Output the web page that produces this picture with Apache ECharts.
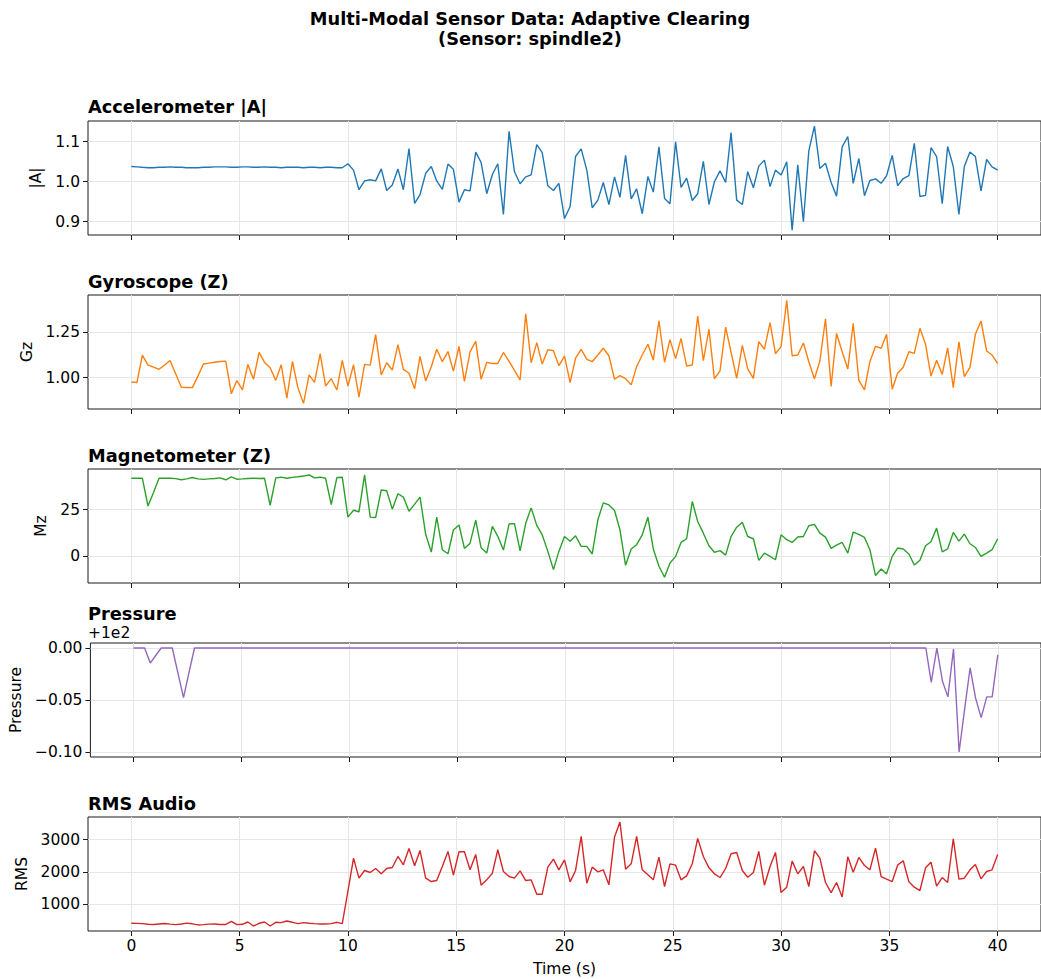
<!DOCTYPE html>
<html>
<head>
<meta charset="utf-8">
<script src="https://cdn.jsdelivr.net/npm/echarts@6/dist/echarts.min.js"></script>
<style>
html,body{margin:0;padding:0;background:#fff;}
#chart{width:1041px;height:979px;}
</style>
</head>
<body>
<div id="chart"></div>
<script>
// ---------------- DATA ----------------
const time = [
0,0.26,0.51,0.77,1.03,1.28,1.54,1.79,2.05,2.31,2.56,2.82,3.08,3.33,3.59,3.85,4.10,4.36,4.62,4.87,5.13,5.38,5.64,5.90,6.15,6.41,6.67,6.92,7.18,7.44,7.69,7.95,8.21,8.46,8.72,8.97,9.23,9.49,9.74,
10,10.26,10.51,10.77,11.03,11.28,11.54,11.79,12.05,12.31,12.56,12.82,13.08,13.33,13.59,13.85,14.10,14.36,14.62,14.87,15.13,15.38,15.64,15.90,16.15,16.41,16.67,16.92,17.18,17.44,17.69,17.95,18.21,18.46,18.72,18.97,19.23,19.49,19.74,
20,20.26,20.51,20.77,21.03,21.28,21.54,21.79,22.05,22.31,22.56,22.82,23.08,23.33,23.59,23.85,24.10,24.36,24.62,24.87,25.13,25.38,25.64,25.90,26.15,26.41,26.67,26.92,27.18,27.44,27.69,27.95,28.21,28.46,28.72,28.97,29.23,29.49,29.74,
30,30.26,30.51,30.77,31.03,31.28,31.54,31.79,32.05,32.31,32.56,32.82,33.08,33.33,33.59,33.85,34.10,34.36,34.62,34.87,35.13,35.38,35.64,35.90,36.15,36.41,36.67,36.92,37.18,37.44,37.69,37.95,38.21,38.46,38.72,38.97,39.23,39.49,39.74,
40];

const accel = [
1.038,1.037,1.036,1.035,1.035,1.036,1.036,1.037,1.036,1.036,
1.035,1.035,1.035,1.036,1.036,1.037,1.037,1.037,1.036,1.036,
1.037,1.037,1.036,1.036,1.037,1.036,1.036,1.035,1.036,1.036,
1.036,1.035,1.036,1.036,1.035,1.036,1.036,1.035,1.035,
1.045,1.029,0.980,1.002,1.005,1.002,1.032,0.978,0.992,1.032,
0.980,1.083,0.946,0.968,1.021,1.038,1.002,0.981,1.044,1.031,
0.949,0.980,0.977,1.074,1.048,0.970,1.018,1.045,0.918,1.126,
1.025,0.995,1.012,1.017,
1.093,1.073,0.990,0.978,0.996,0.908,0.938,1.063,1.082,1.029,
0.935,0.954,0.998,0.943,1.012,0.961,1.066,0.957,0.982,0.920,
1.013,0.974,1.087,0.958,0.945,1.100,0.986,1.009,0.953,0.970,
1.051,0.943,1.000,1.027,0.998,1.123,0.954,0.943,1.025,0.985,
1.039,1.054,0.988,1.029,1.017,1.050,0.879,1.042,0.900,1.077,
1.139,1.033,1.046,0.998,0.964,1.087,1.113,0.996,1.058,0.965,
1.003,1.007,0.996,1.015,1.066,0.990,1.008,1.015,1.096,0.963,
0.966,1.085,1.063,0.945,1.088,1.038,0.918,1.038,1.074,1.063,
0.977,1.056,1.037,1.029];

const gyroZ = [
0.976,0.973,1.124,1.069,1.058,1.046,1.070,1.095,1.020,0.947,
0.946,0.945,1.010,1.075,1.080,1.085,1.089,1.091,0.911,0.984,
0.932,1.073,0.991,1.139,1.084,1.055,0.985,1.071,0.887,1.089,
0.945,0.858,1.015,0.974,1.133,0.954,0.995,0.932,1.095,0.954,
1.071,0.892,1.073,1.069,1.237,1.015,1.082,1.042,1.182,1.046,
1.024,0.938,1.117,0.982,1.060,1.157,1.088,1.144,1.036,1.172,
0.980,1.142,1.201,0.991,1.084,1.078,1.078,1.139,1.090,1.040,
0.987,1.352,1.082,1.193,1.075,1.154,1.149,1.066,1.119,0.972,
1.108,1.156,1.101,1.088,1.125,1.162,1.121,0.991,1.011,0.994,
0.960,1.061,1.125,1.184,1.097,1.314,1.085,1.210,1.105,1.217,
1.064,1.070,1.340,1.094,1.268,0.994,1.037,1.279,1.140,0.996,
1.178,1.048,0.996,1.199,1.156,1.303,1.132,1.171,1.426,1.121,
1.125,1.191,1.088,0.993,1.092,1.324,0.952,1.244,1.143,1.048,
1.300,0.985,0.932,1.088,1.173,1.162,1.239,0.936,1.024,1.057,
1.143,1.134,1.272,1.184,1.009,1.096,1.018,1.164,0.945,1.197,
1.006,1.057,1.239,1.313,1.147,1.125,1.077];

const magZ = [
41.8,41.8,41.8,26.9,34.3,41.8,41.8,41.8,41.6,41.0,
41.5,42.2,41.5,41.2,41.5,41.7,42.0,41.0,42.6,41.3,
41.5,41.7,41.8,41.7,41.8,27.3,42.0,42.4,41.8,42.3,
42.6,43.0,43.6,42.0,42.4,41.8,27.7,42.2,42.4,20.9,
24.6,23.8,43.6,20.9,20.7,35.5,35.1,25.2,33.5,31.7,
24.1,27.9,31.7,11.7,2.1,20.9,3.4,1.2,14.0,16.7,
4.1,6.9,19.3,4.4,1.6,16.0,10.6,3.2,17.2,17.4,
2.8,17.6,25.9,16.5,11.4,2.5,-7.3,2.5,10.5,7.9,
10.9,5.2,5.2,1.1,19.5,28.6,27.5,24.5,14.1,-5.0,
3.8,6.1,11.4,20.9,3.8,-5.5,-11.4,-3.8,-0.2,7.3,
9.3,29.3,18.6,12.3,5.5,2.0,2.9,0.5,10.5,15.5,
18.2,10.5,9.3,-2.3,1.6,-0.2,-2.0,11.4,8.8,7.3,
10.2,10.5,16.3,17.0,12.3,10.2,4.1,5.9,7.3,1.6,
12.9,11.6,10.0,3.4,-10.5,-7.0,-9.6,-0.2,4.3,3.8,
1.1,-4.8,-2.3,5.5,7.7,15.0,2.3,3.8,12.7,8.0,
11.8,6.6,4.6,-0.2,1.6,3.4,9.3];

const pressure = [
100,100,100,99.9855,99.993,100,100,100,99.976,99.9523,
99.976,100,100,100,100,100,100,100,100,100,
100,100,100,100,100,100,100,100,100,100,
100,100,100,100,100,100,100,100,100,100,
100,100,100,100,100,100,100,100,100,100,
100,100,100,100,100,100,100,100,100,100,
100,100,100,100,100,100,100,100,100,100,
100,100,100,100,100,100,100,100,100,100,
100,100,100,100,100,100,100,100,100,100,
100,100,100,100,100,100,100,100,100,100,
100,100,100,100,100,100,100,100,100,100,
100,100,100,100,100,100,100,100,100,100,
100,100,100,100,100,100,100,100,100,100,
100,100,100,100,100,100,100,100,100,100,
100,100,100,100,99.967,100,99.968,99.953,99.999,99.900,
99.9405,99.981,99.952,99.933,99.953,99.953,99.9935];

const rmsAudio = [
396,394,385,365,360,375,390,370,354,375,
400,380,345,355,370,375,360,360,458,354,
365,437,312,396,437,312,427,417,469,427,
385,417,396,385,375,375,385,427,385,1395,
2427,1802,2042,1979,2104,1938,2104,2135,2479,2219,
2729,2188,2667,1802,1698,1729,2167,2635,1896,2625,
2625,2063,2542,1583,1750,1958,2688,2010,1854,1802,
2031,1729,1750,1302,1302,2146,2396,2063,2375,1688,
2042,3104,1646,2146,2000,2063,1594,3083,3552,2083,
2250,3104,2063,1906,1750,2458,1542,2250,2208,1750,
1875,2250,3042,2479,2125,1938,1823,2104,2563,2604,
2042,1833,1979,2635,1583,2167,2604,1354,1521,2333,
1938,2167,1542,2656,2427,1667,1354,1667,1219,2469,
1990,2448,2198,2063,2740,1854,1771,1698,2208,2344,
1688,1521,1417,2125,2302,1552,1823,1667,3031,1771,
1802,2063,2229,1781,2010,2063,2542];

const pressureOffset = 100; // shown as "+1e2"

const xTicks = [0,5,10,15,20,25,30,35,40];
const accelTicks = [0.9,1.0,1.1];
const gyroTicks = [1.0,1.25];
const magTicks = [0,25];
const pressureTicks = [-0.10,-0.05,0.00];
const rmsTicks = [1000,2000,3000];

const titles = ['Accelerometer |A|','Gyroscope (Z)','Magnetometer (Z)','Pressure','RMS Audio'];
const yNames = ['|A|','Gz','Mz','Pressure','RMS'];
const mainTitle = ['Multi-Modal Sensor Data: Adaptive Clearing','(Sensor: spindle2)'];

// ---------------- CHART ----------------
const FONT = '"DejaVu Sans", sans-serif';
const colors = ['#1f77b4','#ff7f0e','#2ca02c','#9467bd','#d62728'];
const seriesValues = [accel, gyroZ, magZ, pressure.map(v => +(v - pressureOffset).toFixed(5)), rmsAudio];
const tops = [121,295,469,643,817];
const yRanges = [[0.8668,1.1518],[0.827,1.456],[-14.5,46.8],[-0.1048,0.0048],[156,3709]];
const yTicks = [accelTicks,gyroTicks,magTicks,pressureTicks,rmsTicks];
const yFmt = [
  v => v.toFixed(1),
  v => v.toFixed(2),
  v => String(Math.round(v)),
  v => v.toFixed(2).replace('-', '\u2212'),
  v => String(Math.round(v))
];
const nameGaps = [39, 47, 34, 60, 53];
const titleCenters = [106, 281, 455, 613, 803];

const spine = '#1a1a1a';
const gridColor = '#e6e6e6';
const TICK_FS = 15.5;
const TITLE_FS = 17.8;

const grid = tops.map(t => ({left:88, top:t, width:962, height:114, show:true,
  borderColor:spine, borderWidth:1, backgroundColor:'rgba(0,0,0,0)', containLabel:false}));

const xAxis = tops.map((t,i) => ({
  type:'value', gridIndex:i, min:-2, max:42,
  axisLine:{show:false, onZero:false},
  axisTick:{show:true, length:5, customValues:xTicks, lineStyle:{color:spine, width:1}},
  axisLabel:{show:i===4, customValues:xTicks, margin:7, fontSize:TICK_FS, color:'#000', fontFamily:FONT},
  splitLine:{show:true, lineStyle:{color:gridColor, width:1}},
  name: i===4 ? 'Time (s)' : '', nameLocation:'middle', nameGap:30,
  nameTextStyle:{fontSize:TICK_FS, color:'#000', fontFamily:FONT}
}));

const yAxis = tops.map((t,i) => ({
  type:'value', gridIndex:i, min:yRanges[i][0], max:yRanges[i][1],
  axisLine:{show:false, onZero:false},
  axisTick:{show:true, length:5, customValues:yTicks[i], lineStyle:{color:spine, width:1}},
  axisLabel:{customValues:yTicks[i], formatter:yFmt[i], margin:8, fontSize:TICK_FS, color:'#000', fontFamily:FONT},
  splitLine:{show:true, lineStyle:{color:gridColor, width:1}},
  name:yNames[i], nameLocation:'middle', nameGap:nameGaps[i], nameRotate:90,
  nameTextStyle:{fontSize:TICK_FS, color:'#000', fontFamily:FONT}
}));

const series = seriesValues.map((vals,i) => ({
  type:'line', xAxisIndex:i, yAxisIndex:i,
  data: vals.map((v,k) => [time[k], v]),
  showSymbol:false, symbol:'none', smooth:false,
  lineStyle:{color:colors[i], width:1.4}, itemStyle:{color:colors[i]},
  animation:false, silent:true, z:3
}));

function txt(text, x, y, size, bold, align){
  return {type:'text', x:x, y:y, silent:true, z:10,
    style:{text:text, fill:'#000', fontSize:size, fontWeight: bold?'bold':'normal', fontFamily:FONT,
      textAlign:align, align:align, textVerticalAlign:'middle', verticalAlign:'middle'}};
}
const graphic = [
  txt(mainTitle[0], 530, 18, TITLE_FS, true, 'center'),
  txt(mainTitle[1], 530, 38, TITLE_FS, true, 'center'),
  txt('+1e2', 88, 633, TICK_FS, false, 'left')
].concat(titles.map((t,i) => txt(t, 88, titleCenters[i], TITLE_FS, true, 'left')));

const chart = echarts.init(document.getElementById('chart'), null, {renderer:'svg', width:1041, height:979});
chart.setOption({
  animation:false,
  backgroundColor:'#fff',
  grid, xAxis, yAxis, series, graphic
});
</script>
</body>
</html>
